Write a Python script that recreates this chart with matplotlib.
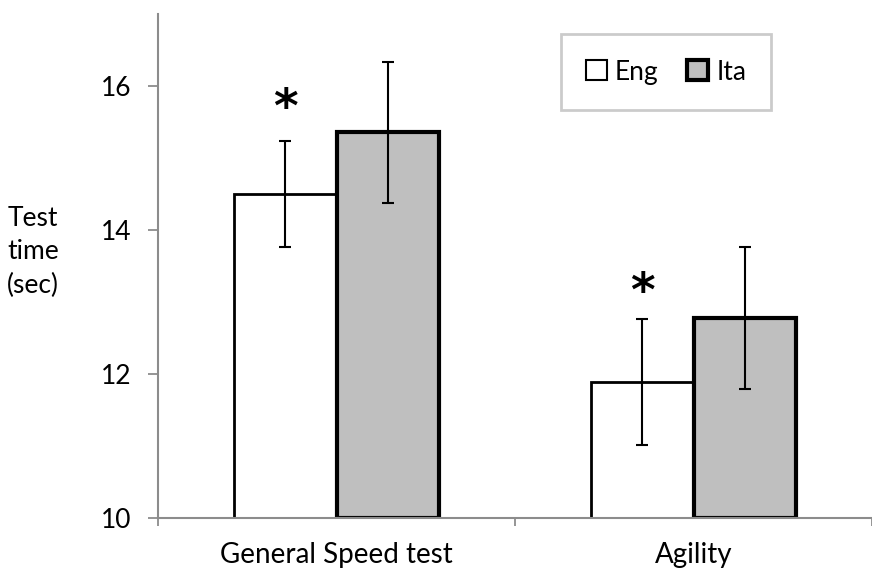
import matplotlib
matplotlib.use("Agg")
from matplotlib import pyplot as plt
from matplotlib.patches import Patch
import numpy as np

# values
categories = ["General Speed test", "Agility"]
eng_mean = [14.50, 11.89]
eng_err = [0.73, 0.87]
ita_mean = [15.36, 12.78]
ita_err = [0.98, 0.99]
star_y = [15.68, 13.12]   # where the asterisks sit (above Eng bars)

plt.rcParams['font.family'] = ['Lato', 'DejaVu Sans']

fig = plt.figure(figsize=(8.72, 5.68), dpi=100)
ax = fig.add_axes([158/872, 1-518/568, 714/872, (518-14)/568])

x = np.arange(len(categories))
w = 0.286
axis_grey = "#8c8c8c"

ax.bar(x - w/2, [m - 10 for m in eng_mean], w, bottom=10, color="white",
       edgecolor="black", linewidth=2, zorder=2)
ax.bar(x + w/2, [m - 10 for m in ita_mean], w, bottom=10, color="#bfbfbf",
       edgecolor="black", linewidth=3, zorder=2)
ax.errorbar(x - w/2, eng_mean, yerr=eng_err, fmt="none", ecolor="black",
            elinewidth=1.5, capsize=4.5, capthick=1.5, zorder=3)
ax.errorbar(x + w/2, ita_mean, yerr=ita_err, fmt="none", ecolor="black",
            elinewidth=1.5, capsize=4.5, capthick=1.5, zorder=3)

for xi, yi in zip(x - w/2, star_y):
    ax.text(xi, yi, "*", ha="center", va="center", fontsize=34,
            fontweight="bold", family="DejaVu Sans")

ax.set_ylim(10, 17)
ax.set_yticks([10, 12, 14, 16])
ax.set_xlim(-0.5, -0.5 + 714/364)
ax.set_xticks([-0.5, 0.5, 1.5])
ax.set_xticklabels([])
ax.set_xticks(x, minor=True)
ax.set_xticklabels(categories, minor=True)

for s in ["top", "right"]:
    ax.spines[s].set_visible(False)
for s in ["left", "bottom"]:
    ax.spines[s].set_color(axis_grey)
    ax.spines[s].set_linewidth(1.5)
    ax.spines[s].set_zorder(4)

ax.tick_params(axis="y", which="major", direction="out", length=7,
               width=1.3, color=axis_grey, labelsize=19, pad=12)
ax.tick_params(axis="x", which="major", direction="out", length=6,
               width=1.3, color=axis_grey)
ax.tick_params(axis="x", which="minor", length=0, labelsize=20, pad=17)

fig.text(33/872, 1-252/568, "Test\ntime\n(sec)", ha="center", va="center",
         fontsize=19, linespacing=1.4)

handles = [Patch(facecolor="white", edgecolor="black", linewidth=1.5),
           Patch(facecolor="#bfbfbf", edgecolor="black", linewidth=3)]
leg = fig.legend(handles, ["Eng", "Ita"], ncol=2, loc="center",
                 bbox_to_anchor=(666/872, 1-72/568), fontsize=19,
                 frameon=True, fancybox=False, handlelength=0.8,
                 handleheight=0.8, handletextpad=0.3, columnspacing=1.1,
                 borderpad=0.95, borderaxespad=0)
frame = leg.get_frame()
frame.set_edgecolor("#bfbfbf")
frame.set_linewidth(2)

fig.savefig("out.png", dpi=100)
